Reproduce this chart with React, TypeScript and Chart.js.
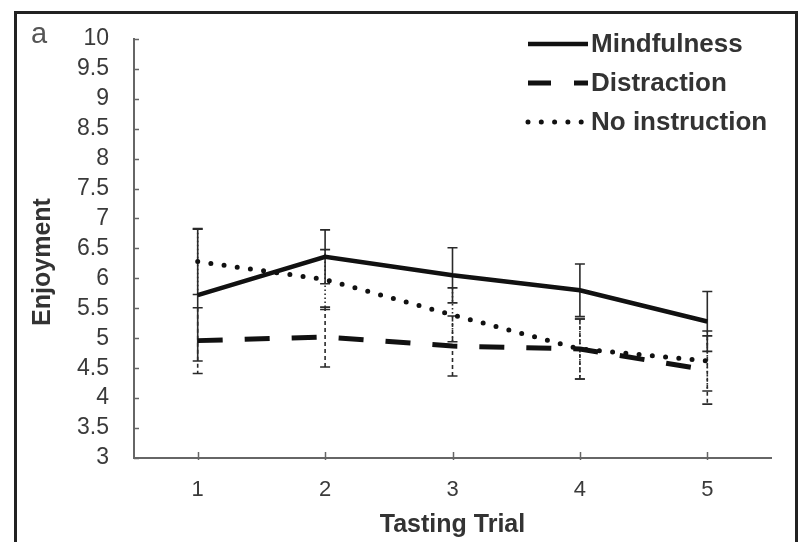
import { useEffect, useRef } from "react";
import { Chart, registerables } from "chart.js";

Chart.register(...registerables);

const trials = ["1", "2", "3", "4", "5"];
const mindfulness = [5.72, 6.36, 6.05, 5.8, 5.28];
const mindfulnessErr = [1.1, 0.45, 0.46, 0.44, 0.5];
const distraction = [4.96, 5.02, 4.87, 4.82, 4.47];
const distractionErr = [0.55, 0.5, 0.5, 0.5, 0.57];
const noInstruction = [6.28, 5.98, 5.39, 4.82, 4.62];
const noInstructionErr = [0.55, 0.5, 0.45, 0.5, 0.5];
const seriesNames = ["Mindfulness", "Distraction", "No instruction"];
const xTitle = "Tasting Trial";
const yTitle = "Enjoyment";
const panelLetter = "a";

const FONT = "'Liberation Sans', Arial, Helvetica, sans-serif";
const errors = [mindfulnessErr, distractionErr, noInstructionErr];
const errDash = [[], [4, 3], [1.5, 2.5]];

const decorPlugin = {
  id: "decor",
  beforeDraw(chart: any) {
    const ctx = chart.ctx;
    ctx.save();
    ctx.fillStyle = "#ffffff";
    ctx.fillRect(0, 0, chart.width, chart.height);
    ctx.restore();
  },
  beforeDatasetsDraw(chart: any) {
    const ctx = chart.ctx;
    const xs = chart.scales.x;
    const ys = chart.scales.y;
    ctx.save();
    chart.data.datasets.forEach((ds: any, di: number) => {
      const errs = errors[di];
      ctx.strokeStyle = "#2a2a2a";
      ctx.lineWidth = 1.6;
      ctx.setLineDash(errDash[di]);
      ds.data.forEach((v: number, i: number) => {
        const x = xs.getPixelForValue(i);
        const yt = ys.getPixelForValue(v + errs[i]);
        const yb = ys.getPixelForValue(v - errs[i]);
        ctx.beginPath();
        ctx.moveTo(x, yt);
        ctx.lineTo(x, yb);
        ctx.stroke();
        ctx.save();
        ctx.setLineDash([]);
        ctx.beginPath();
        ctx.moveTo(x - 5, yt);
        ctx.lineTo(x + 5, yt);
        ctx.moveTo(x - 5, yb);
        ctx.lineTo(x + 5, yb);
        ctx.stroke();
        ctx.restore();
      });
    });
    ctx.restore();
  },
  afterDraw(chart: any) {
    const ctx = chart.ctx;
    const xs = chart.scales.x;
    const ys = chart.scales.y;
    const area = chart.chartArea;
    ctx.save();
    // axis tick marks
    ctx.strokeStyle = "#666";
    ctx.lineWidth = 1.5;
    ys.ticks.forEach((t: any) => {
      const y = Math.round(ys.getPixelForValue(t.value)) + 0.5;
      ctx.beginPath();
      ctx.moveTo(area.left, y);
      ctx.lineTo(area.left + 5, y);
      ctx.stroke();
    });
    trials.forEach((_, i) => {
      const x = Math.round(xs.getPixelForValue(i)) + 0.5;
      ctx.beginPath();
      ctx.moveTo(x, area.bottom - 6);
      ctx.lineTo(x, area.bottom + 2);
      ctx.stroke();
    });
    // legend
    const rows = [44, 83, 122];
    chart.data.datasets.forEach((ds: any, di: number) => {
      const y = rows[di];
      ctx.save();
      ctx.strokeStyle = "#111";
      ctx.lineWidth = ds.borderWidth;
      ctx.lineCap = ds.borderCapStyle || "butt";
      ctx.setLineDash(di === 1 ? [23, 23] : ds.borderDash || []);
      ctx.beginPath();
      ctx.moveTo(528, y);
      ctx.lineTo(di === 2 ? 583 : 588, y);
      ctx.stroke();
      ctx.restore();
      ctx.fillStyle = "#333";
      ctx.font = `bold 26px ${FONT}`;
      ctx.textAlign = "left";
      ctx.textBaseline = "middle";
      ctx.fillText(ds.label, 591, y + 1);
    });
    // y title
    ctx.save();
    ctx.translate(43, 262);
    ctx.rotate(-Math.PI / 2);
    ctx.fillStyle = "#333";
    ctx.font = `bold 25px ${FONT}`;
    ctx.textAlign = "center";
    ctx.textBaseline = "middle";
    ctx.fillText(yTitle, 0, 0);
    ctx.restore();
    // panel letter
    ctx.fillStyle = "#555";
    ctx.font = `29px ${FONT}`;
    ctx.textAlign = "left";
    ctx.textBaseline = "alphabetic";
    ctx.fillText(panelLetter, 31, 43);
    // outer frame
    ctx.strokeStyle = "#222";
    ctx.lineWidth = 3;
    ctx.setLineDash([]);
    ctx.strokeRect(15.5, 12.5, 781, 560);
    ctx.restore();
  },
};

export default function App() {
  const ref = useRef<HTMLCanvasElement | null>(null);
  useEffect(() => {
    if (!ref.current) return;
    const chart = new Chart(ref.current, {
      type: "line",
      data: {
        labels: trials,
        datasets: [
          {
            label: seriesNames[0],
            data: mindfulness,
            borderColor: "#111",
            borderWidth: 4.5,
            pointRadius: 0,
            tension: 0,
            fill: false,
          },
          {
            label: seriesNames[1],
            data: distraction,
            borderColor: "#111",
            borderWidth: 5,
            borderDash: [25, 22],
            pointRadius: 0,
            tension: 0,
            fill: false,
          },
          {
            label: seriesNames[2],
            data: noInstruction,
            borderColor: "#111",
            borderWidth: 5,
            borderDash: [0, 13.3],
            borderCapStyle: "round",
            pointRadius: 0,
            tension: 0,
            fill: false,
          },
        ] as any,
      },
      options: {
        animation: false,
        responsive: false,
        layout: { padding: { left: 0, right: 33, top: 30, bottom: 0 } },
        plugins: { legend: { display: false }, tooltip: { enabled: false } },
        scales: {
          x: {
            type: "category",
            offset: true,
            grid: { display: false, drawTicks: false },
            border: { display: true, color: "#666", width: 2 },
            ticks: {
              color: "#3a3a3a",
              padding: 19,
              font: { family: FONT, size: 22 },
              maxRotation: 0,
            },
            title: {
              display: true,
              text: xTitle,
              color: "#333",
              font: { family: FONT, size: 25, weight: "bold" },
              padding: { top: 0, bottom: 2 },
            },
            afterFit: (s: any) => {
              s.height = 84;
            },
          },
          y: {
            min: 3,
            max: 10,
            grid: { display: false, drawTicks: false },
            border: { display: true, color: "#666", width: 2 },
            ticks: {
              stepSize: 0.5,
              autoSkip: false,
              color: "#3a3a3a",
              padding: 25,
              font: { family: FONT, size: 23 },
              callback: (v: any) => String(Number(v)),
            },
            afterFit: (s: any) => {
              s.width = 134;
            },
          },
        },
      },
      plugins: [decorPlugin],
    });
    return () => chart.destroy();
  }, []);
  return (
    <div style={{ position: "absolute", left: 0, top: 0, width: 804, height: 542 }}>
      <canvas ref={ref} width={804} height={542} style={{ width: 804, height: 542, display: "block" }} />
    </div>
  );
}
